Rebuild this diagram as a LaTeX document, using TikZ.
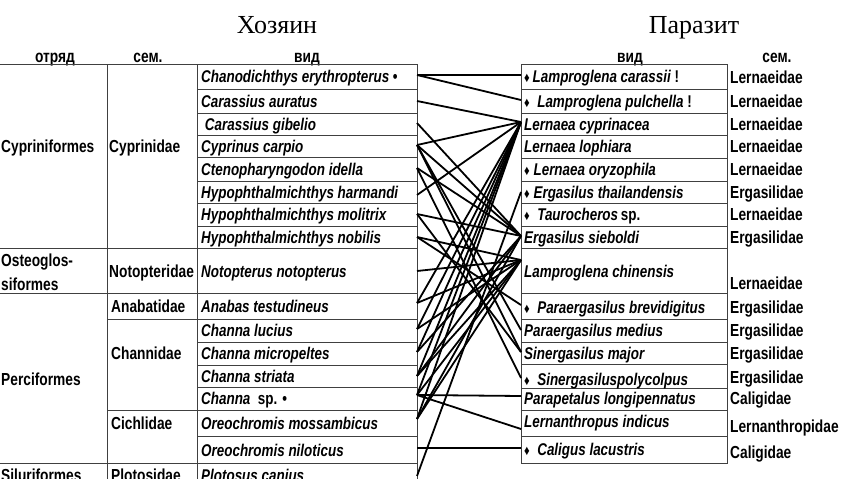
\documentclass[tikz,border=0pt]{standalone}
\usepackage{fontspec}
\setmainfont{Liberation Sans}[FakeStretch=0.79]
\newfontfamily\titlefont{Liberation Serif}
\newcommand{\dm}{{\upshape\fontsize{14}{14}\selectfont ♦}}
\tikzset{
  sp/.style={anchor=base west, inner sep=0pt, font=\fontsize{17}{19}\selectfont\bfseries\itshape},
  fam/.style={anchor=base west, inner sep=0pt, font=\fontsize{17.4}{19}\selectfont\bfseries},
  hd/.style={anchor=base, inner sep=0pt, font=\fontsize{17.4}{19}\selectfont\bfseries},
  ttl/.style={anchor=base, inner sep=0pt, font=\fontsize{26}{29}\selectfont\titlefont},
  tl/.style={draw=black!75, line width=0.9pt},
  cn/.style={line width=1.8pt, draw=black},
}
\begin{document}
\begin{tikzpicture}[x=1pt,y=-1pt]
\useasboundingbox (0,0) rectangle (841,479);
\begin{scope}
\clip (0,0) rectangle (841,479);
% titles
\node[ttl] (t1) at (277,33) {Хозяин};
\node[ttl] (t2) at (694,34) {Паразит};
% headers
\node[hd] (h-ord) at (55,62) {отряд};
\node[hd] (h-fam) at (148,62) {сем.};
\node[hd] (h-sp) at (307,62) {вид};
\node[hd] (p-sp) at (630,62) {вид};
\node[hd] (p-fam) at (777,62) {сем.};
% host table lines
\draw[tl] (0,64) -- (417,64);
\draw[tl] (0,248) -- (417,248);
\draw[tl] (0,293) -- (417,293);
\draw[tl] (0,463) -- (417,463);
\draw[tl] (107,319) -- (417,319);
\draw[tl] (107,410) -- (417,410);
\foreach \yy in {89,113,135,157,181,203,226,342,365,387,436}
  \draw[tl] (197,\yy) -- (417,\yy);
\draw[tl] (107,64) -- (107,479);
\draw[tl] (197,64) -- (197,479);
\draw[tl] (417,64) -- (417,479);
% parasite table lines
\draw[tl] (521,64) rectangle (727,463);
\foreach \yy in {89,113,135,158,181,203,226,248,293,319,342,364,388,410,436}
  \draw[tl] (521,\yy) -- (727,\yy);
% orders
\node[fam] (o1) at (1,152) {Cypriniformes};
\node[fam] (o2a) at (1,266) {Osteoglos-};
\node[fam] (o2b) at (1,290) {siformes};
\node[fam] (o3) at (1,385) {Perciformes};
\node[fam] (o4) at (1,481) {Siluriformes};
% host families
\node[fam] (f1) at (109,152) {Cyprinidae};
\node[fam] (f2) at (109,277) {Notopteridae};
\node[fam] (f3) at (111,312) {Anabatidae};
\node[fam] (f4) at (111,359) {Channidae};
\node[fam] (f5) at (111,429) {Cichlidae};
\node[fam] (f6) at (111,481) {Plotosidae};
% host species
\node[sp] (s1) at (201,82.5) {Chanodichthys erythropterus {\upshape •}};
\node[sp] (s2) at (201,107) {Carassius auratus};
\node[sp] (s3) at (201,130) {\ Carassius gibelio};
\node[sp] (s4) at (201,152) {Cyprinus carpio};
\node[sp] (s5) at (201,175) {Ctenopharyngodon idella};
\node[sp] (s6) at (201,198) {Hypophthalmichthys harmandi};
\node[sp] (s7) at (201,220.5) {Hypophthalmichthys molitrix};
\node[sp] (s8) at (201,243) {Hypophthalmichthys nobilis};
\node[sp] (s9) at (201,277) {Notopterus notopterus};
\node[sp] (s10) at (201,312) {Anabas testudineus};
\node[sp] (s11) at (201,336.5) {Channa lucius};
\node[sp] (s12) at (201,359.5) {Channa micropeltes};
\node[sp] (s13) at (201,382) {Channa striata};
\node[sp] (s14) at (201,404.5) {Channa {\upshape\ sp. •}};
\node[sp] (s15) at (201,429) {Oreochromis mossambicus};
\node[sp] (s16) at (201,456) {Oreochromis niloticus};
\node[sp] (s17) at (201,481) {Plotosus canius};
% parasite species
\node[sp] (q1) at (524,82.5) {\dm\,Lamproglena carassii {\upshape !}};
\node[sp] (q2) at (524,107) {\dm\ \ Lamproglena pulchella {\upshape !}};
\node[sp] (q3) at (524,130) {Lernaea cyprinacea};
\node[sp] (q4) at (524,152) {Lernaea lophiara};
\node[sp] (q5) at (524,175) {\dm\ Lernaea oryzophila};
\node[sp] (q6) at (524,198) {\dm\ Ergasilus thailandensis};
\node[sp] (q7) at (524,220.5) {\dm\ \ Taurocheros{\upshape\,sp.}};
\node[sp] (q8) at (524,243) {Ergasilus sieboldi};
\node[sp] (q9) at (524,277) {Lamproglena chinensis};
\node[sp] (q10) at (524,313) {\dm\ \ Paraergasilus brevidigitus};
\node[sp] (q11) at (524,336.5) {Paraergasilus medius};
\node[sp] (q12) at (524,359) {Sinergasilus major};
\node[sp] (q13) at (524,385) {\dm\ \ Sinergasiluspolycolpus};
\node[sp] (q14) at (524,404) {Parapetalus longipennatus};
\node[sp] (q15) at (524,427) {Lernanthropus indicus};
\node[sp] (q16) at (524,455) {\dm\ \ Caligus lacustris};
% parasite families
\node[fam] (g1) at (730,83) {Lernaeidae};
\node[fam] (g2) at (730,107) {Lernaeidae};
\node[fam] (g3) at (730,130) {Lernaeidae};
\node[fam] (g4) at (730,152) {Lernaeidae};
\node[fam] (g5) at (730,175) {Lernaeidae};
\node[fam] (g6) at (730,198) {Ergasilidae};
\node[fam] (g7) at (730,220.5) {Lernaeidae};
\node[fam] (g8) at (730,243) {Ergasilidae};
\node[fam] (g9) at (730,289) {Lernaeidae};
\node[fam] (g10) at (730,313) {Ergasilidae};
\node[fam] (g11) at (730,336.5) {Ergasilidae};
\node[fam] (g12) at (730,359) {Ergasilidae};
\node[fam] (g13) at (730,383) {Ergasilidae};
\node[fam] (g14) at (730,404) {Caligidae};
\node[fam] (g15) at (730,432) {Lernanthropidae};
\node[fam] (g16) at (730,458) {Caligidae};
% connector anchors
\coordinate (H1) at (417,75);
\coordinate (H2) at (417,101);
\coordinate (H3) at (417,123);
\coordinate (H4) at (417,145);
\coordinate (H5) at (417,168);
\coordinate (H6) at (417,195);
\coordinate (H7) at (417,214);
\coordinate (H8) at (417,237);
\coordinate (H9) at (417,271);
\coordinate (H10) at (417,303);
\coordinate (H11) at (417,329);
\coordinate (H12) at (417,352);
\coordinate (H13) at (417,376);
\coordinate (H14) at (417,395);
\coordinate (H15) at (417,419);
\coordinate (H16) at (417,448);
\coordinate (H17) at (417,476);
\coordinate (P1) at (521,75);
\coordinate (P2) at (521,100);
\coordinate (P3) at (521,122);
\coordinate (P6) at (521,192);
\coordinate (P8) at (521,236);
\coordinate (P9) at (521,260);
\coordinate (P10) at (521,305);
\coordinate (P11) at (521,330);
\coordinate (P12) at (521,352);
\coordinate (P13) at (521,378);
\coordinate (P14) at (521,396);
\coordinate (P15) at (521,429);
\coordinate (P16) at (521,448);
% connectors
\foreach \a/\b in {H1/P1,H1/P2,H2/P3,H3/P8,H4/P3,H4/P8,H4/P11,H4/P12,
  H5/P8,H5/P13,H6/P3,H7/P8,H7/P12,H8/P10,H8/P9,H9/P9,H10/P9,H10/P3,
  H11/P9,H11/P3,H12/P3,H12/P8,H13/P3,H13/P9,H13/P8,H14/P14,H14/P15,
  H14/P3,H14/P9,H15/P3,H15/P8,H15/P9,H16/P16,H17/P6}
  \draw[cn] (\a) -- (\b);
\end{scope}
\end{tikzpicture}
\end{document}
